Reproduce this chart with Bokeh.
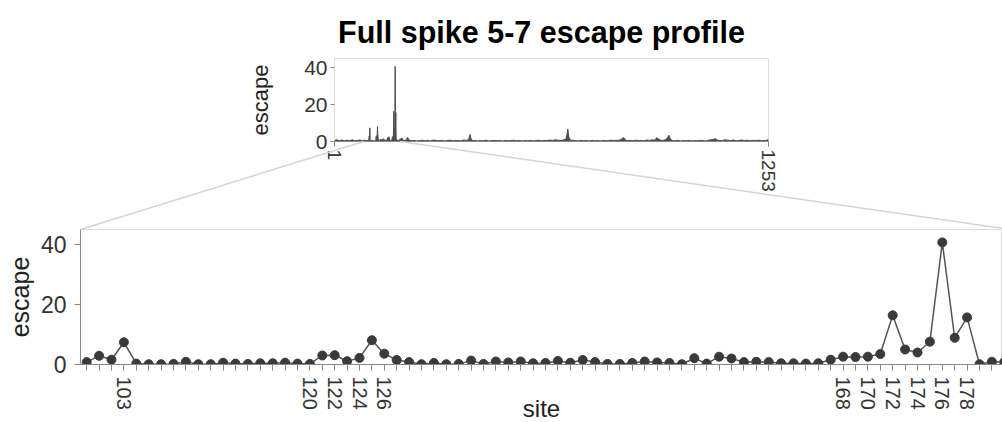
from bokeh.plotting import figure
from bokeh.models import Range1d, FixedTicker, Column
from bokeh.core.properties import value
from bokeh.embed import file_html
from bokeh.resources import INLINE

title_text = "Full spike 5-7 escape profile"

# sites shown in the zoomed panel and their escape scores
zoom_sites = [100, 101, 102, 103, 104, 105, 106, 107, 109, 110, 111, 112, 113, 114,
              115, 116, 118, 119, 120, 121, 122, 123, 124, 125, 126, 127, 128, 129,
              130, 131, 132, 133, 134, 135, 136, 137, 138, 139, 140, 141, 142, 146,
              147, 148, 149, 150, 151, 152, 153, 154, 155, 158, 159, 160, 161, 162,
              163, 164, 165, 166, 167, 168, 169, 170, 171, 172, 173, 174, 175, 176,
              177, 178, 179, 180, 181]
zoom_escape = [0.8, 2.9, 1.6, 7.4, 0.3, 0.1, 0.1, 0.2, 0.9, 0.1, 0.1, 0.6, 0.3, 0.2,
               0.4, 0.4, 0.6, 0.3, 0.2, 3.0, 3.1, 1.1, 2.2, 8.1, 3.6, 1.5, 0.8, 0.1,
               0.5, 0.1, 0.2, 1.3, 0.2, 1.0, 0.7, 1.0, 0.4, 0.5, 1.2, 0.6, 1.5, 0.8,
               0.2, 0.2, 0.5, 1.0, 0.7, 0.5, 0.1, 2.1, 0.3, 2.6, 2.0, 0.8, 0.9, 0.8,
               0.4, 0.4, 0.3, 0.4, 1.6, 2.6, 2.5, 2.6, 3.5, 16.4, 5.0, 4.0, 7.6, 40.7,
               8.9, 15.7, 0.1, 0.9, 0.8]
labeled_sites = [103, 120, 122, 124, 126, 168, 170, 172, 174, 176, 178]

# escape at the remaining spike sites (overview panel)
other_sites = [
    1, 8, 15, 22, 30, 38, 45, 52, 60, 67,
    74, 81, 88, 94, 185, 190, 196, 200, 206, 212,
    216, 222, 230, 238, 246, 254, 262, 270, 278, 286,
    294, 302, 310, 318, 326, 334, 342, 350, 358, 366,
    374, 382, 388, 392, 395, 400, 406, 414, 422, 430,
    438, 446, 454, 462, 470, 478, 486, 494, 502, 510,
    518, 526, 534, 542, 550, 558, 566, 574, 582, 590,
    598, 606, 614, 622, 630, 638, 646, 654, 662, 668,
    671, 674, 677, 682, 688, 696, 704, 712, 720, 728,
    736, 744, 752, 760, 768, 776, 784, 792, 800, 808,
    816, 826, 832, 836, 840, 846, 854, 862, 870, 878,
    886, 894, 902, 910, 918, 926, 930, 934, 940, 948,
    956, 962, 966, 970, 976, 984, 992, 1000, 1008, 1016,
    1024, 1032, 1040, 1048, 1056, 1064, 1072, 1080, 1088, 1096,
    1100, 1104, 1112, 1120, 1128, 1136, 1144, 1152, 1160, 1168,
    1176, 1184, 1192, 1200, 1208, 1216, 1224, 1232, 1240, 1248,
    1253]
other_escape = [
    0.6, 0.9, 0.5, 0.8, 0.4, 0.7, 0.5, 0.9, 0.4, 0.6,
    0.8, 0.5, 0.7, 0.4, 0.5, 1.2, 1.8, 0.6, 0.5, 2.2,
    0.8, 0.4, 0.6, 0.3, 0.5, 0.7, 0.4, 0.6, 0.3, 0.8,
    0.5, 0.4, 0.6, 0.3, 0.5, 0.7, 0.4, 0.6, 0.5, 0.4,
    0.8, 0.6, 1.1, 3.8, 1.4, 0.5, 0.6, 0.3, 0.5, 0.4,
    0.7, 0.3, 0.5, 0.6, 0.4, 0.5, 0.3, 0.6, 0.4, 0.5,
    0.7, 0.4, 0.6, 0.3, 0.5, 0.4, 0.6, 0.3, 0.5, 0.7,
    0.4, 0.6, 0.5, 0.8, 0.6, 0.9, 0.7, 0.5, 0.9, 1.2,
    3.0, 6.8, 2.4, 0.6, 0.7, 0.5, 0.3, 0.6, 0.4, 0.5,
    0.3, 0.6, 0.4, 0.5, 0.3, 0.6, 0.4, 0.5, 0.7, 0.5,
    0.6, 0.9, 1.8, 2.0, 0.8, 0.5, 0.6, 0.4, 0.7, 0.5,
    0.6, 0.4, 0.8, 0.6, 0.9, 0.7, 2.0, 1.6, 0.8, 0.6,
    1.0, 2.2, 3.4, 1.2, 0.5, 0.4, 0.6, 0.3, 0.5, 0.4,
    0.6, 0.3, 0.5, 0.4, 0.6, 0.5, 0.3, 0.7, 1.0, 1.2,
    1.6, 0.8, 0.5, 0.6, 0.9, 0.7, 0.5, 0.8, 0.4, 0.6,
    0.8, 0.5, 0.7, 0.4, 0.6, 0.5, 0.7, 0.4, 0.6, 0.5,
    1.5]

# selected site window in the overview
brush_sites = [85, 190]

y_ticks = [0, 20, 40]
y_max = 45

FONT_NAME = "Liberation Sans"
FONT = value(FONT_NAME)
LINE = "#555555"
DOT = "#3a3a3a"
AXIS = "#888888"
BORDER = "#dddddd"

# ---- geometry (pixels) ----
W, H = 1002, 422
T_LEFT, T_TOP, T_W, T_H = 334, 58, 434, 83
T_PAD_L, T_PAD_T = 110, 10
B_LEFT, B_TOP, B_H = 80, 229, 135
B_PAD_T = 10
STEP = 12.4

# ---- overview panel ----
pairs = sorted(zip(zoom_sites + other_sites, zoom_escape + other_escape))
all_sites = [s for s, _ in pairs]
all_escape = [e for _, e in pairs]

top = figure(frame_width=T_W, frame_height=T_H, frame_align=False,
             min_border_left=T_PAD_L, min_border_right=10,
             min_border_top=T_PAD_T, min_border_bottom=60,
             x_range=Range1d(1, 1253), y_range=Range1d(0, y_max),
             output_backend="svg", toolbar_location=None,
             background_fill_color=None, border_fill_color=None,
             styles={"position": "absolute", "left": f"{T_LEFT - T_PAD_L}px",
                     "top": f"{T_TOP - T_PAD_T}px"})
top.varea(x=all_sites, y1=0, y2=all_escape, fill_color="#4d4d4d")
top.line(all_sites, all_escape, line_color="#4d4d4d", line_width=1)
top.grid.visible = False
top.outline_line_color = BORDER
top.outline_line_width = 1

top.yaxis.ticker = FixedTicker(ticks=y_ticks)
top.yaxis.axis_label = "escape"
top.yaxis.axis_label_text_font = FONT_NAME
top.yaxis.axis_label_text_font_size = "22px"
top.yaxis.axis_label_text_font_style = "normal"
top.yaxis.axis_label_text_color = "#222222"
top.yaxis.axis_label_standoff = 28
top.yaxis.major_label_text_font = FONT_NAME
top.yaxis.major_label_text_font_size = "21px"
top.yaxis.major_label_text_color = "#333333"
top.yaxis.major_label_standoff = 3
top.yaxis.axis_line_color = None
top.yaxis.major_tick_line_color = AXIS
top.yaxis.major_tick_out = 4
top.yaxis.major_tick_in = 0
top.yaxis.minor_tick_line_color = None

top.xaxis.ticker = FixedTicker(ticks=[1, 1253])
top.xaxis.major_label_orientation = "vertical"
top.xaxis.major_label_text_font = FONT_NAME
top.xaxis.major_label_text_font_size = "19px"
top.xaxis.major_label_text_color = "#333333"
top.xaxis.major_label_standoff = 3
top.xaxis.axis_line_color = AXIS
top.xaxis.major_tick_line_color = AXIS
top.xaxis.major_tick_out = 5
top.xaxis.major_tick_in = 0
top.xaxis.minor_tick_line_color = None

# ---- zoomed panel ----
n = len(zoom_sites)
xs = list(range(n))
frame_w = W - B_LEFT
x_end = -0.5 + frame_w / STEP

bot = figure(frame_width=frame_w, frame_height=B_H, frame_align=False,
             min_border_left=B_LEFT, min_border_right=0,
             min_border_top=B_PAD_T, min_border_bottom=H - B_TOP - B_H,
             x_range=Range1d(-0.5, x_end), y_range=Range1d(0, y_max),
             output_backend="svg", toolbar_location=None,
             background_fill_color=None, border_fill_color=None,
             styles={"position": "absolute", "left": "0px",
                     "top": f"{B_TOP - B_PAD_T}px"})
bot.line(xs, zoom_escape, line_color=LINE, line_width=1.5)
bot.scatter(xs, zoom_escape, size=9, fill_color=DOT, line_color=DOT)
bot.grid.visible = False
bot.outline_line_color = BORDER
bot.outline_line_width = 1

bot.yaxis.ticker = FixedTicker(ticks=y_ticks)
bot.yaxis.axis_label = "escape"
bot.yaxis.axis_label_text_font = FONT_NAME
bot.yaxis.axis_label_text_font_size = "25px"
bot.yaxis.axis_label_text_font_style = "normal"
bot.yaxis.axis_label_text_color = "#222222"
bot.yaxis.axis_label_standoff = 4
bot.yaxis.major_label_text_font = FONT_NAME
bot.yaxis.major_label_text_font_size = "23px"
bot.yaxis.major_label_text_color = "#333333"
bot.yaxis.major_label_standoff = 8
bot.yaxis.axis_line_color = AXIS
bot.yaxis.major_tick_line_color = AXIS
bot.yaxis.major_tick_out = 6
bot.yaxis.major_tick_in = 0
bot.yaxis.minor_tick_line_color = None

bot.xaxis.ticker = FixedTicker(ticks=xs)
bot.xaxis.major_label_overrides = {
    i: (str(s) if s in labeled_sites else "") for i, s in enumerate(zoom_sites)
}
bot.xaxis.major_label_orientation = "vertical"
bot.xaxis.major_label_text_font = FONT_NAME
bot.xaxis.major_label_text_font_size = "20px"
bot.xaxis.major_label_text_color = "#333333"
bot.xaxis.major_label_standoff = 6
bot.xaxis.axis_label = "site"
bot.xaxis.axis_label_text_font = FONT_NAME
bot.xaxis.axis_label_text_font_size = "24px"
bot.xaxis.axis_label_text_font_style = "normal"
bot.xaxis.axis_label_text_color = "#222222"
bot.xaxis.axis_label_standoff = -18
bot.xaxis.axis_line_color = AXIS
bot.xaxis.major_tick_line_color = AXIS
bot.xaxis.major_tick_out = 6
bot.xaxis.major_tick_in = 0
bot.xaxis.minor_tick_line_color = None

# ---- title and connector lines linking the window to the zoomed panel ----
def overview_x(site):
    return T_LEFT + (site - 1) / (1253 - 1) * T_W

over = figure(frame_width=W, frame_height=H, min_border=0, frame_align=False,
              title=None,
              x_range=Range1d(0, W), y_range=Range1d(H, 0),
              x_axis_type=None, y_axis_type=None,
              output_backend="svg", toolbar_location=None,
              background_fill_color=None, border_fill_color=None,
              outline_line_color=None,
              styles={"position": "absolute", "left": "0px", "top": "0px"})
over.grid.visible = False
over.segment(x0=[B_LEFT, B_LEFT + n * STEP],
             y0=[B_TOP, B_TOP],
             x1=[overview_x(brush_sites[0]), overview_x(brush_sites[1])],
             y1=[T_TOP + T_H, T_TOP + T_H],
             line_color="#d4d4d4", line_width=1.5)
over.text(x=[541], y=[31], text=[title_text], text_font=FONT,
          text_font_size="30.5px", text_font_style="bold",
          text_align="center", text_baseline="alphabetic", text_color="#000000")

p = Column(children=[top, bot, over], width=W, height=H,
           styles={"position": "relative"})

open("out.html", "w").write(file_html(p, INLINE))
